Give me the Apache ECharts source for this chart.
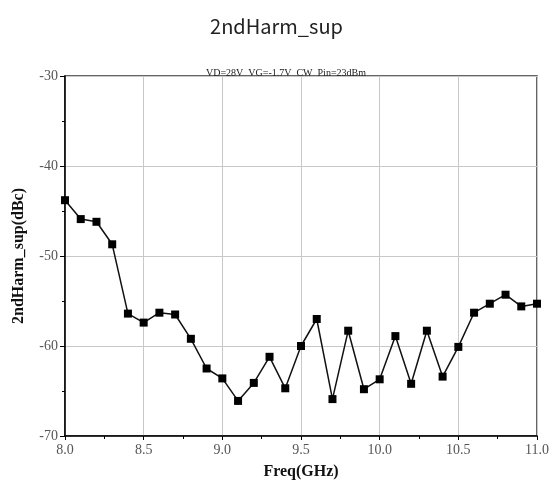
<!DOCTYPE html>
<html><head><meta charset="utf-8">
<script src="https://cdn.jsdelivr.net/npm/echarts@6/dist/echarts.min.js"></script>
<style>html,body{margin:0;padding:0;background:#fff}#c{width:553px;height:488px}</style>
</head><body><div id="c"></div>
<script>
const freqs = [8.0,8.1,8.2,8.3,8.4,8.5,8.6,8.7,8.8,8.9,9.0,9.1,9.2,9.3,9.4,9.5,9.6,9.7,9.8,9.9,10.0,10.1,10.2,10.3,10.4,10.5,10.6,10.7,10.8,10.9,11.0];
const harmSup = [-43.8,-45.9,-46.2,-48.7,-56.4,-57.4,-56.3,-56.5,-59.2,-62.5,-63.6,-66.1,-64.1,-61.2,-64.7,-60.0,-57.0,-65.9,-58.3,-64.8,-63.7,-58.9,-64.2,-58.3,-63.4,-60.1,-56.3,-55.3,-54.3,-55.6,-55.3];
const titleText = '2ndHarm_sup';
const subText = 'VD=28V  VG=-1.7V  CW  Pin=23dBm';
const xName = 'Freq(GHz)';
const yName = '2ndHarm_sup(dBc)';

const chart = echarts.init(document.getElementById('c'));
const serif = '"Liberation Serif", "DejaVu Serif", serif';
chart.setOption({
  animation: false,
  title: [
    {text: titleText, left: 'center', top: 11, textStyle: {fontFamily: '"Noto Sans CJK SC", "Noto Sans", sans-serif', fontSize: 20, fontWeight: 'normal', color: '#222'}},
    {text: subText, left: 281, textAlign: 'center', top: 63, textStyle: {fontFamily: serif, fontSize: 10, fontWeight: 'normal', color: '#222'}}
  ],
  grid: {left: 65, right: 16, top: 76, bottom: 52, show: true, borderColor: '#333', borderWidth: 1.5, backgroundColor: '#fff'},
  xAxis: {
    type: 'value', min: 8, max: 11, interval: 0.5,
    name: xName, nameLocation: 'middle', nameGap: 28,
    nameTextStyle: {fontFamily: serif, fontSize: 16, fontWeight: 'bold', color: '#111'},
    axisLine: {show: true, lineStyle: {color: '#000', width: 1.5}},
    axisTick: {show: true, length: 4, lineStyle: {color: '#000'}},
    minorTick: {show: true, splitNumber: 2, length: 3, lineStyle: {color: '#000'}},
    axisLabel: {fontFamily: serif, fontSize: 14, color: '#555', margin: 7, formatter: v => v.toFixed(1)},
    splitLine: {show: true, lineStyle: {color: '#c8c8c8', width: 1}}
  },
  yAxis: {
    type: 'value', min: -70, max: -30, interval: 10,
    name: yName, nameLocation: 'middle', nameGap: 38,
    nameTextStyle: {fontFamily: serif, fontSize: 16, fontWeight: 'bold', color: '#111'},
    axisLine: {show: true, lineStyle: {color: '#000', width: 1.5}},
    axisTick: {show: true, length: 5, lineStyle: {color: '#000'}},
    minorTick: {show: true, splitNumber: 2, length: 3, lineStyle: {color: '#000'}},
    axisLabel: {fontFamily: serif, fontSize: 14, color: '#555', margin: 7},
    splitLine: {show: true, lineStyle: {color: '#c8c8c8', width: 1}}
  },
  series: [{
    type: 'line',
    data: freqs.map((f, i) => [f, harmSup[i]]),
    symbol: 'rect', symbolSize: 8,
    lineStyle: {color: '#111', width: 1.5},
    itemStyle: {color: '#000'},
    clip: false
  }]
});
</script></body></html>
